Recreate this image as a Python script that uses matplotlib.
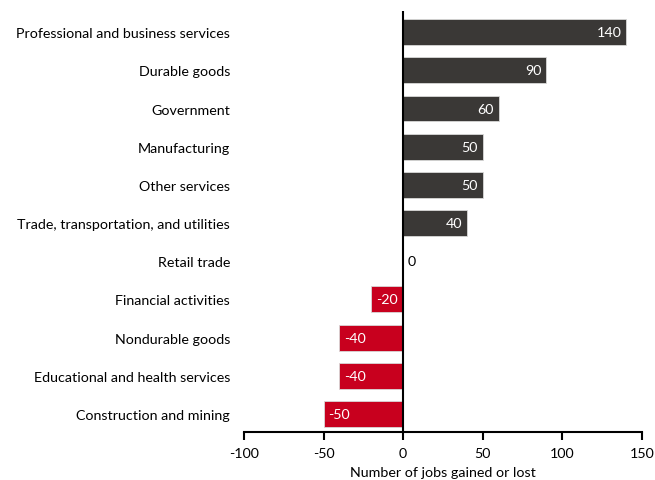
import matplotlib.pyplot as plt
import numpy as np

plt.rcParams['font.family'] = ['Lato', 'DejaVu Sans']

categories = [
    "Professional and business services",
    "Durable goods",
    "Government",
    "Manufacturing",
    "Other services",
    "Trade, transportation, and utilities",
    "Retail trade",
    "Financial activities",
    "Nondurable goods",
    "Educational and health services",
    "Construction and mining",
]
values = [140, 90, 60, 50, 50, 40, 0, -20, -40, -40, -50]
xticks = [-100, -50, 0, 50, 100, 150]

dark = '#3a3836'
red = '#c8001e'

fig = plt.figure(figsize=(6.55, 4.81), dpi=100)
ax = fig.add_axes([0.3725, 0.0998, 0.6075, 0.875])

y = np.arange(len(categories))
colors = [dark if v >= 0 else red for v in values]
ax.barh(y, values, height=0.68, color=colors, edgecolor='#d8d8d8', linewidth=0.6)

for yi, v in zip(y, values):
    if v > 0:
        ax.text(v - 3, yi, str(v), ha='right', va='center', color='white', fontsize=10.3)
    elif v < 0:
        ax.text(v + 3, yi, str(v), ha='left', va='center', color='white', fontsize=10.3)
    else:
        ax.text(3, yi, str(v), ha='left', va='center', color='black', fontsize=10.3)

ax.set_xlim(-100, 150)
ax.set_ylim(10.47, -0.55)
ax.set_xticks(xticks)
ax.set_xticklabels([str(t) for t in xticks], fontsize=10.3)
ax.set_yticks(y)
ax.set_yticklabels(categories, fontsize=10.3)
ax.tick_params(axis='y', length=0, pad=10)
ax.tick_params(axis='x', direction='out', length=6, width=1.5, pad=5)

ax.axvline(0, color='black', linewidth=1.5)
for s in ['top', 'right', 'left']:
    ax.spines[s].set_visible(False)
ax.spines['bottom'].set_linewidth(1.5)

ax.set_xlabel("Number of jobs gained or lost", fontsize=10.3, labelpad=5)

fig.savefig('out.png', dpi=100)
